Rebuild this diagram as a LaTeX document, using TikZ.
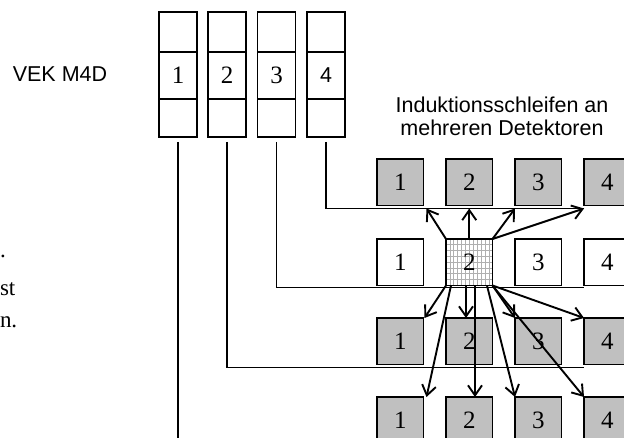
\documentclass[tikz,border=0pt]{standalone}
\usepackage{fontspec}
\setmainfont{Liberation Serif}
\newfontfamily\arialfont{Liberation Sans}
\usetikzlibrary{arrows.meta,calc}
\definecolor{boxgray}{RGB}{192,192,192}
\definecolor{hatchgray}{RGB}{175,175,175}

\begin{document}
\begin{tikzpicture}[x=1pt,y=-1pt,
  every node/.style={inner sep=0pt,outer sep=0pt},
  wire/.style={line width=1.9pt},
  cell/.style={draw,line width=1.9pt,minimum width=38pt,anchor=north west},
  digit/.style={font=\fontsize{25}{25}\selectfont},
  margintext/.style={font=\fontsize{23}{23}\selectfont,anchor=base west},
  label/.style={font=\arialfont\fontsize{21.5}{23}\selectfont},
  det/.style={draw,line width=1.9pt,minimum width=46.5pt,minimum height=46.5pt,
    anchor=north west,digit},
  detgray/.style={det,fill=boxgray},
  sig/.style={line width=1.9pt,-{Straight Barb[length=10pt,width=14pt]}},
  hatch/.style={draw=hatchgray,line width=0.7pt},
]
\useasboundingbox (0,0) rectangle (624,438);

% left margin text
\node[margintext] (t1) at (0,258) {.};
\node[margintext] (t2) at (0,296) {st};
\node[margintext] (t3) at (0,328) {n.};

% module label
\node[label] (vek) at (60,74) {VEK M4D};

% the four channel stacks of the module
\foreach \i/\x in {1/159,2/208,3/257.5,4/307}{
  \node[cell,minimum height=40pt] (s\i t) at (\x,12) {};
  \node[cell,minimum height=47pt] (s\i m) at (\x,52) {};
  \node[cell,minimum height=38pt] (s\i b) at (\x,99) {};
}
\node[digit] (n1) at (s1m.center) {1};
\node[digit] (n2) at (s2m.center) {2};
\node[digit] (n3) at (s3m.center) {3};
\node[label] (n4) at (s4m.center) {4};

% caption of the detector field
\node[label,align=center] (ind) at (502,116) {Induktionsschleifen an\\mehreren Detektoren};

% detector rows
\foreach \i/\x in {1/377,2/446,3/515,4/584}{
  \node[detgray] (a\i) at (\x,159) {\i};
  \node[detgray] (c\i) at (\x,318) {\i};
  \node[detgray] (d\i) at (\x,397) {\i};
}
\node[det] (b1) at (377,239) {1};
\node[det] (b3) at (515,239) {3};
\node[det] (b4) at (584,239) {4};

% active detector with hatched loop
\node[det] (b2) at (446,239) {};
\begin{scope}
  \clip (b2.north west) rectangle (b2.south east);
  \foreach \k in {1,...,11}
    \draw[hatch] ($(b2.north west)+(3.9*\k,0)$) -- ($(b2.south west)+(3.9*\k,0)$);
  \foreach \k in {1,...,7}
    \draw[hatch] ($(b2.north west)+(0,5.8*\k)$) -- ($(b2.north east)+(0,5.8*\k)$);
\end{scope}
\draw[line width=1.9pt] (b2.north west) rectangle (b2.south east);
\node[digit] (n22) at (b2.center) {2};

% bus lines from the module channels
\coordinate (ha) at ($(a4.south west)+(0,3)$);
\coordinate (hb) at ($(b4.south west)+(0,2)$);
\coordinate (hc) at ($(c4.south west)+(0,3)$);
\coordinate (hd) at ($(s1b.south)+(0,310)$);
\draw[wire] ($(s4b.south)+(0,5)$) |- (ha);
\draw[wire] ($(s3b.south)+(0,5)$) |- (hb);
\draw[wire] ($(s2b.south)+(0,5)$) |- (hc);
\draw[wire] ($(s1b.south)+(0,5)$) -- (hd);

% coupling from the active loop to the neighbouring detectors
\draw[sig] (b2.north west) -- ($(a1.south east)+(3,3)$);
\draw[sig] (b2.north) -- (b2.north |- ha);
\draw[sig] (b2.north east) -- ($(a3.south west)+(0,3)$);
\draw[sig] (b2.north east) -- (ha);

\draw[sig] (b2.south west) -- ($(c1.north east)+(1,0)$);
\draw[sig] ($(b2.south west)+(20,0)$) -- ($(c2.north west)+(20,0)$);
\draw[sig] (b2.south east) -- (c3.north west);
\draw[sig] (b2.south east) -- (c4.north west);
\draw[sig] ($(b2.south west)+(5,0)$) -- ($(d1.north east)+(3,0)$);
\draw[sig] ($(b2.south west)+(29,0)$) -- ($(d2.north west)+(29,0)$);
\draw[sig] ($(b2.south west)+(41,0)$) -- (d3.north west);
\draw[sig] (b2.south east) -- (d4.north west);
\end{tikzpicture}
\end{document}
